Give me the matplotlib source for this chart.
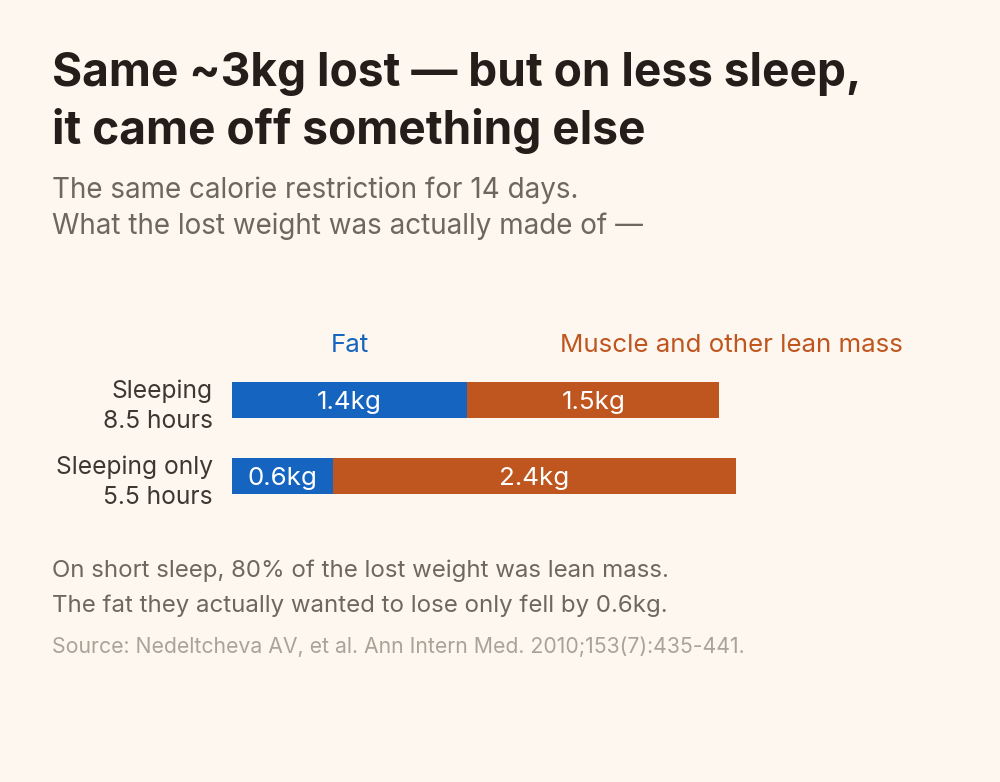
import matplotlib

matplotlib.use("Agg")
import matplotlib.pyplot as plt  # noqa: E402

plt.rcParams["font.family"] = ["Inter", "DejaVu Sans"]

# data
groups = ["Sleeping\n8.5 hours", "Sleeping only\n5.5 hours"]
fat_kg = [1.4, 0.6]
lean_kg = [1.5, 2.4]
series_names = ["Fat", "Muscle and other lean mass"]

BG = "#fdf7f0"
BLUE = "#1565c0"
ORANGE = "#c0561f"
INK = "#231e1a"
GREY = "#6f675f"
LIGHT = "#aba398"

W, H = 1000, 782
fig = plt.figure(figsize=(W / 100, H / 100), dpi=100, facecolor=BG)
renderer = fig.canvas.get_renderer()


def fy(py):
    return 1 - py / H


def fx(px):
    return px / W


def fit(t, width_px):
    # scale font so the rendered text is as wide as in the reference
    w = t.get_window_extent(renderer).width
    t.set_fontsize(t.get_fontsize() * width_px / w)
    return t


def fitted_size(s, width_px, **kw):
    t = fit(fig.text(0, 0, s, fontsize=17.5, **kw), width_px)
    size = t.get_fontsize()
    t.remove()
    return size


# header / footer text
fit(fig.text(fx(52), fy(86), "Same ~3kg lost — but on less sleep,", fontsize=33,
             fontweight="bold", color=INK, va="baseline"), 810)
fig.text(fx(52), fy(144), "it came off something else",
         fontsize=fig.texts[-1].get_fontsize(), fontweight="bold", color=INK,
         va="baseline")
fit(fig.text(fx(52), fy(198), "The same calorie restriction for 14 days.",
             fontsize=17.5, color=GREY, va="baseline"), 528)
fig.text(fx(52), fy(234), "What the lost weight was actually made of —",
         fontsize=fig.texts[-1].get_fontsize(), color=GREY, va="baseline")
fit(fig.text(fx(52), fy(577), "On short sleep, 80% of the lost weight was lean mass.",
             fontsize=16.5, color=GREY, va="baseline"), 616)
fig.text(fx(52), fy(612), "The fat they actually wanted to lose only fell by 0.6kg.",
         fontsize=fig.texts[-1].get_fontsize(), color=GREY, va="baseline")
fit(fig.text(fx(52), fy(653),
             "Source: Nedeltcheva AV, et al. Ann Intern Med. 2010;153(7):435-441.",
             fontsize=13.5, color=LIGHT, va="baseline"), 696)

# bar axes: 168 px per kg, rows 76 px apart
ax = fig.add_axes([fx(232), fy(514), 588 / W, 152 / H])
ax.set_facecolor("none")
ypos = list(range(len(groups)))
ax.barh(ypos, fat_kg, height=36 / 76, color=BLUE)
ax.barh(ypos, lean_kg, left=fat_kg, height=36 / 76, color=ORANGE)
ax.set_xlim(0, 3.5)
ax.set_ylim(1.5, -0.5)
ax.axis("off")

label_size = fitted_size(series_names[1], 344)
cat_size = fitted_size("Sleeping only", 157)

for y, f, l in zip(ypos, fat_kg, lean_kg):
    ax.text(f / 2, y, f"{f}kg", color="white", fontsize=label_size,
            ha="center", va="center_baseline")
    ax.text(f + l / 2, y, f"{l}kg", color="white", fontsize=label_size,
            ha="center", va="center_baseline")
    lines = groups[y].split("\n")
    for k, line in enumerate(lines):
        ax.annotate(line, (0, y), xytext=(-19, -4 - 30 * (k - 0.5)),
                    textcoords="offset pixels", ha="right", va="center_baseline",
                    fontsize=cat_size, color="#3d3732")

# series headers
ax.annotate(series_names[0], (fat_kg[0] / 2, -0.5), xytext=(0, 10),
            textcoords="offset pixels", ha="center", va="baseline",
            fontsize=label_size, color=BLUE)
fig.text(fx(560), fy(352), series_names[1], fontsize=label_size, color=ORANGE,
         va="baseline")

fig.savefig("out.png", dpi=100, facecolor=BG)
